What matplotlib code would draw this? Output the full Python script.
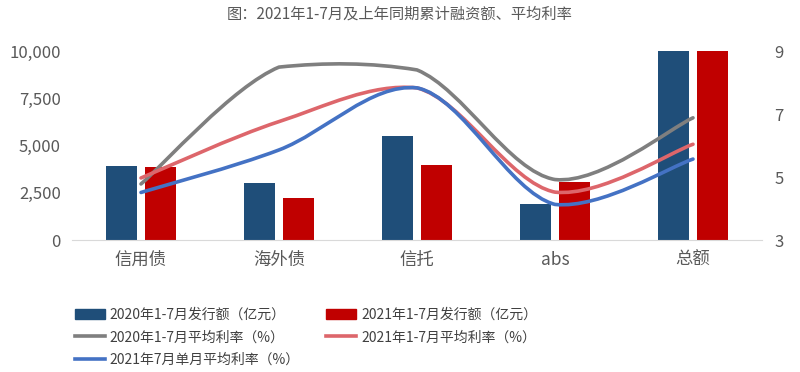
import matplotlib
matplotlib.use('Agg')
import matplotlib.pyplot as plt
from matplotlib.path import Path
from matplotlib.patches import PathPatch, Patch
from matplotlib.lines import Line2D
import numpy as np

plt.rcParams['font.family'] = ['Noto Sans CJK SC', 'DejaVu Sans']

# data
categories = ['信用债', '海外债', '信托', 'abs', '总额']
issue_2020 = [3930, 3000, 5500, 1920, 10000]
issue_2021 = [3880, 2240, 3990, 3050, 10000]
rate_2020 = [4.78, 8.49, 8.40, 4.92, 6.88]
rate_2021 = [4.97, 6.76, 7.83, 4.52, 6.04]
rate_2021_jul = [4.51, 5.86, 7.83, 4.13, 5.57]

c_bar20 = '#1f4e79'
c_bar21 = '#c00000'
c_gray = '#7f7f7f'
c_red = '#dd666b'
c_blue = '#4472c4'
c_text = '#595959'


def smooth_path(xs, ys, margin=0.15):
    # excel-like smoothed line: bezier through the points,
    # control points kept close to the y range of each segment
    pts = list(zip(xs, ys))
    n = len(pts)
    verts = [pts[0]]
    codes = [Path.MOVETO]
    for i in range(n - 1):
        p0 = pts[i - 1] if i > 0 else pts[i]
        p1 = pts[i]
        p2 = pts[i + 1]
        p3 = pts[i + 2] if i + 2 < n else pts[i + 1]
        lo = min(p1[1], p2[1]) - margin
        hi = max(p1[1], p2[1]) + margin
        c1 = (p1[0] + (p2[0] - p0[0]) / 6,
              min(max(p1[1] + (p2[1] - p0[1]) / 6, lo), hi))
        c2 = (p2[0] - (p3[0] - p1[0]) / 6,
              min(max(p2[1] - (p3[1] - p1[1]) / 6, lo), hi))
        verts += [c1, c2, p2]
        codes += [Path.CURVE4] * 3
    return Path(verts, codes)


fig = plt.figure(figsize=(8, 3.72), dpi=100)
ax = fig.add_axes([0.09, 0.3548, 0.8625, 0.508])
x = np.arange(len(categories))
w = 0.225
off = 0.141
ax.bar(x - off, issue_2020, w, color=c_bar20, zorder=2)
ax.bar(x + off, issue_2021, w, color=c_bar21, zorder=2)
ax.set_xlim(-0.5, 4.5)
ax.set_ylim(0, 10000)
ax.set_yticks([0, 2500, 5000, 7500, 10000])
ax.set_yticklabels(['0', '2,500', '5,000', '7,500', '10,000'])
ax.set_xticks(x)
ax.set_xticklabels(categories)
for s in ['top', 'left', 'right']:
    ax.spines[s].set_visible(False)
ax.spines['bottom'].set_color('#d9d9d9')
ax.tick_params(axis='y', length=0, pad=8, labelsize=12, labelcolor=c_text)
ax.tick_params(axis='x', length=0, pad=8, labelsize=12.5, labelcolor=c_text)

ax2 = ax.twinx()
ax2.set_ylim(3, 9)
ax2.set_yticks([3, 5, 7, 9])
for s in ax2.spines.values():
    s.set_visible(False)
ax2.tick_params(axis='y', length=0, pad=9, labelsize=12, labelcolor=c_text)

for ys, col in [(rate_2020, c_gray), (rate_2021, c_red), (rate_2021_jul, c_blue)]:
    ax2.add_patch(PathPatch(smooth_path(x, ys), fill=False, edgecolor=col,
                            lw=2.6, capstyle='round', joinstyle='round', zorder=3))

fig.text(0.5, 0.962, '图：2021年1-7月及上年同期累计融资额、平均利率',
         ha='center', va='center', fontsize=11, color=c_text)

handles = [
    Patch(color=c_bar20),
    Line2D([], [], color=c_gray, lw=2.6),
    Line2D([], [], color=c_blue, lw=2.6),
    Patch(color=c_bar21),
    Line2D([], [], color=c_red, lw=2.6),
]
labels = [
    '2020年1-7月发行额（亿元）',
    '2020年1-7月平均利率（%）',
    '2021年7月单月平均利率（%）',
    '2021年1-7月发行额（亿元）',
    '2021年1-7月平均利率（%）',
]
fig.legend(handles, labels, ncol=2, loc='upper left',
           bbox_to_anchor=(0.094, 0.173), frameon=False,
           fontsize=10, labelcolor='#404040', handlelength=2.15,
           handleheight=0.7, handletextpad=0.35, columnspacing=1.9,
           labelspacing=0.62, borderaxespad=0, borderpad=0)

fig.savefig('out.png', dpi=100)
